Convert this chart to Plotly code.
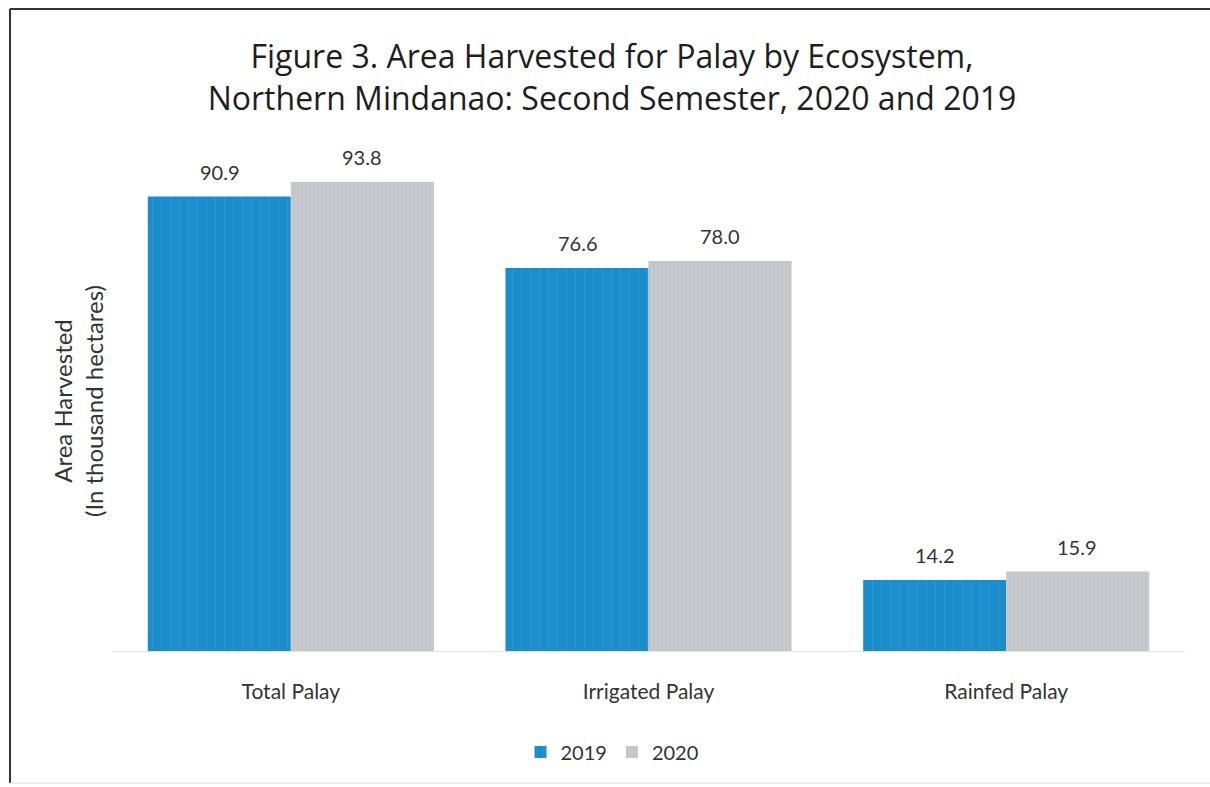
import plotly.graph_objects as go

# Area harvested for palay, thousand hectares
categories = ["Total Palay", "Irrigated Palay", "Rainfed Palay"]
years = ["2019", "2020"]
area_2019 = [90.9, 76.6, 14.2]
area_2020 = [93.8, 78.0, 15.9]

W, H = 1210, 787
ML, MR, MT, MB = 112, 25, 151, 136
BAR_HALF = 71  # half of one bar's width in pixels, used to centre value labels

def px(x):
    return (x - ML) / (W - ML - MR)

def py(y):
    return (H - MB - y) / (H - MT - MB)

LABEL_FONT = dict(family="Lato, Open Sans, sans-serif", size=20, color="#333333")

fig = go.Figure()
fig.add_trace(go.Bar(
    name=years[0], x=categories, y=area_2019,
    marker=dict(color="#1b8dca", line=dict(width=0),
                pattern=dict(shape="|", fgcolor="#3ea3d9", size=9, solidity=0.12)),
))
fig.add_trace(go.Bar(
    name=years[1], x=categories, y=area_2020,
    marker=dict(color="#c9cace", line=dict(width=0),
                pattern=dict(shape="|", fgcolor="#b2b4ba", size=4, solidity=0.3)),
))

# Value labels above each bar
for values, shift in ((area_2019, -BAR_HALF), (area_2020, BAR_HALF)):
    for cat, v in zip(categories, values):
        fig.add_annotation(x=cat, y=v, text=f"{v:.1f}", showarrow=False,
                           xshift=shift, yshift=25, yanchor="middle",
                           font=LABEL_FONT)

fig.update_layout(
    width=W, height=H,
    margin=dict(l=ML, r=MR, t=MT, b=MB),
    paper_bgcolor="white", plot_bgcolor="white",
    barmode="group", bargap=0.2, bargroupgap=0,
    font=dict(family="Lato, Open Sans, sans-serif", color="#333333"),
    title=dict(
        text="Figure 3. Area Harvested for Palay by Ecosystem,<br>Northern Mindanao: Second Semester, 2020 and 2019",
        x=px(612), xanchor="center", xref="paper",
        y=1 - 68 / H, yanchor="middle",
        font=dict(family="Open Sans, Lato, sans-serif", size=32, color="#1e1e1e"),
    ),
    xaxis=dict(showgrid=False, showline=True, linecolor="#e3e3e3", linewidth=1,
               ticks="", tickfont=dict(size=21, color="#333333"), ticklabelstandoff=22),
    yaxis=dict(range=[0, 100], showgrid=False, zeroline=False, showticklabels=False,
               showline=False,
               title=dict(text="Area Harvested<br>(In thousand hectares)",
                          font=dict(size=24, color="#333333"), standoff=0)),
    legend=dict(orientation="h", x=px(612), xanchor="center", xref="paper",
                y=py(752), yanchor="middle", font=dict(size=20, color="#333333"),
                itemwidth=30, traceorder="normal"),
    showlegend=True,
)

# Outer frame of the figure
frame = dict(type="line", xref="paper", yref="paper", line=dict(color="#333333", width=2))
fig.add_shape(**frame, x0=px(10), x1=px(10), y0=py(9), y1=py(783))
fig.add_shape(**frame, x0=px(10), x1=px(1210), y0=py(9), y1=py(9))
fig.add_shape(type="line", xref="paper", yref="paper", line=dict(color="#d8d8d8", width=1),
              x0=px(10), x1=px(1210), y0=py(783), y1=py(783))

fig.write_html("out.html")
